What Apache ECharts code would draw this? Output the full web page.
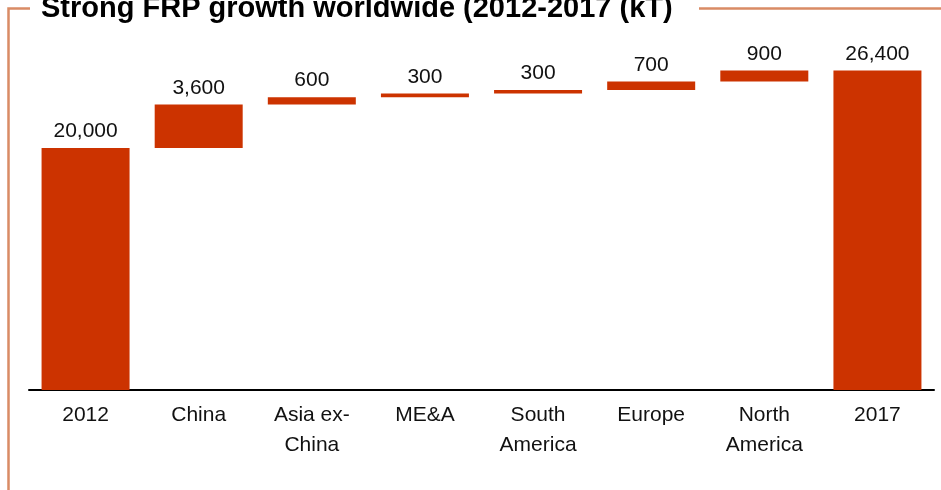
<!DOCTYPE html>
<html>
<head>
<meta charset="utf-8">
<script src="https://cdn.jsdelivr.net/npm/echarts@6/dist/echarts.min.js"></script>
<style>
  html, body { margin: 0; padding: 0; background: #fff; }
  #chart { width: 941px; height: 490px; }
</style>
</head>
<body>
<div id="chart"></div>
<script>
// FRP volume bridge, 2012 -> 2017 (kT)
const categories = ['2012', 'China', 'Asia ex-\nChina', 'ME&A', 'South\nAmerica', 'Europe', 'North\nAmerica', '2017'];
const startTotal = 20000;
const regionGrowth = [3600, 600, 300, 300, 700, 900];
const endTotal = 26400;

// Invisible base under each floating step, built from the running total
const baseValues = [0];
const stepValues = [startTotal];
let running = startTotal;
regionGrowth.forEach(v => {
  baseValues.push(running);
  stepValues.push(v);
  running += v;
});
baseValues.push(0);
stepValues.push(endTotal);

const BAR = '#CC3300';
const FONT = '"Liberation Sans", Arial, sans-serif';
const FRAME = '#D98B65';

const chart = echarts.init(document.getElementById('chart'), null, { renderer: 'canvas' });
chart.setOption({
  animation: false,
  backgroundColor: '#fff',
  grid: { left: 29, right: 7, top: 27, bottom: 100, containLabel: false },
  xAxis: {
    type: 'category',
    data: categories,
    axisLine: { show: true, lineStyle: { color: '#000', width: 2 } },
    axisTick: { show: false },
    axisLabel: {
      interval: 0,
      margin: 10,
      fontFamily: FONT,
      fontSize: 21,
      lineHeight: 30,
      color: '#111'
    }
  },
  yAxis: {
    type: 'value',
    min: 0,
    max: 30000,
    show: false,
    splitLine: { show: false }
  },
  series: [
    {
      type: 'bar',
      stack: 'bridge',
      data: baseValues,
      barWidth: 88,
      itemStyle: { color: 'transparent' },
      emphasis: { disabled: true },
      silent: true
    },
    {
      type: 'bar',
      stack: 'bridge',
      data: stepValues,
      barWidth: 88,
      itemStyle: { color: BAR },
      label: {
        show: true,
        position: 'top',
        distance: 6,
        fontFamily: FONT,
        fontSize: 21,
        color: '#111',
        formatter: p => p.value.toLocaleString('en-US')
      }
    }
  ],
  graphic: [
    {
      type: 'text',
      left: 41,
      top: -6,
      style: {
        text: 'Strong FRP growth worldwide (2012-2017 (kT)',
        font: 'bold 29px "Liberation Sans", Arial, sans-serif',
        fill: '#000'
      }
    },
    {
      type: 'polyline',
      shape: { points: [[30, 8.5], [8.5, 8.5], [8.5, 490]] },
      style: { stroke: FRAME, lineWidth: 2.5, fill: null }
    },
    {
      type: 'line',
      shape: { x1: 699, y1: 8.5, x2: 941, y2: 8.5 },
      style: { stroke: FRAME, lineWidth: 2.5 }
    }
  ]
});
</script>
</body>
</html>
